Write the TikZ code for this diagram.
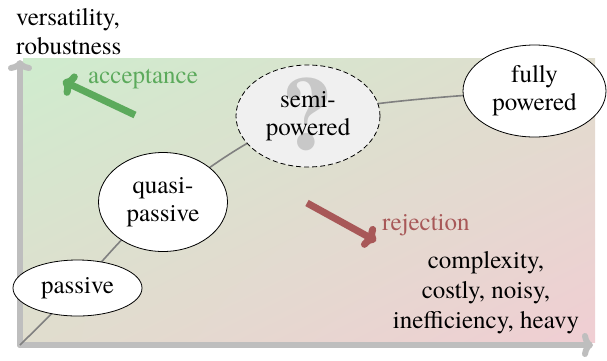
\documentclass[tikz,border=0pt]{standalone}
\usepackage{fontspec}
\setmainfont{texgyretermes}[Extension=.otf, UprightFont=*-regular, BoldFont=*-bold, ItalicFont=*-italic, BoldItalicFont=*-bolditalic]
\usetikzlibrary{shapes.geometric,arrows.meta,shadings}
\definecolor{bgGreen}{RGB}{207,236,206}
\definecolor{bgPink}{RGB}{240,206,211}
\definecolor{bgMid}{RGB}{224,221,206}
\definecolor{axisGray}{RGB}{190,190,190}
\definecolor{accGreen}{RGB}{92,170,92}
\definecolor{rejRed}{RGB}{168,88,88}
\definecolor{semiFill}{RGB}{240,240,240}
\definecolor{qmark}{RGB}{200,200,200}
\definecolor{curveGray}{RGB}{128,128,128}
\tikzset{
  lbl/.style={font=\rmfamily\fontsize{25}{29}\selectfont, inner sep=0pt},
  ell/.style={ellipse, draw=black, line width=0.8pt, fill=white, inner sep=0pt,
    align=center, font=\rmfamily\fontsize{25}{28}\selectfont},
  axisline/.style={draw=axisGray, line width=6pt, line cap=round, -{To[length=11pt,width=24pt]}},
  bigarrow/.style={line width=7pt, -{To[length=12pt,width=24pt]}},
  curveline/.style={draw=curveGray, line width=1.6pt}
}
\begin{document}
\begin{tikzpicture}[x=1pt,y=-1pt]
\useasboundingbox (0,0) rectangle (607,360);
\shade[upper left=bgGreen, lower right=bgPink, upper right=bgMid, lower left=bgMid]
  (23,58) rectangle (595,342);
\coordinate (O) at (20,345);
\coordinate (ytip) at (20,60);
\coordinate (xtip) at (593,345);
\draw[axisline] (O) -- (ytip);
\draw[axisline] (O) -- (xtip);
\coordinate (pc) at (77.5,288);
\coordinate (qc) at (163,202);
\coordinate (sc) at (308,116);
\coordinate (fc) at (534.5,91);
\draw[curveline] plot[smooth, tension=0.55] coordinates {(O) (pc) (qc) (sc) (fc)};
\node[ell, minimum width=129pt, minimum height=56pt] (passive) at (pc) {passive};
\node[ell, minimum width=129pt, minimum height=99pt] (quasi) at (qc) {quasi-\\passive};
\node[ell, fill=semiFill, dashed, dash pattern=on 5pt off 3pt, minimum width=144pt, minimum height=102pt] (semi) at (sc) {};
\node[inner sep=0pt, text=qmark, font=\rmfamily\fontsize{104}{104}\bfseries\selectfont] (qm) at (307,114) {?};
\node[align=center, inner sep=0pt, font=\rmfamily\fontsize{25}{28}\selectfont] (semitext) at (sc) {semi-\\powered};
\node[ell, minimum width=143pt, minimum height=92pt] (fully) at (fc) {fully\\powered};
\node[lbl, anchor=base west, align=left] (ylabel) at (16,54) {versatility,\\robustness};
\node[lbl, anchor=base west, text=accGreen] (acc) at (88,83) {acceptance};
\node[lbl, anchor=base west, text=rejRed] (rej) at (382,230) {rejection};
\node[lbl, anchor=base, align=center, font=\rmfamily\fontsize{25}{30}\selectfont] (cons) at (486,328) {complexity,\\costly, noisy,\\inefficiency, heavy};
\coordinate (gt) at (135,115);
\coordinate (gh) at (63,81);
\draw[bigarrow, draw=accGreen] (gt) -- (gh);
\coordinate (rt) at (307,203);
\coordinate (rh) at (376,241);
\draw[bigarrow, draw=rejRed] (rt) -- (rh);
\end{tikzpicture}
\end{document}
